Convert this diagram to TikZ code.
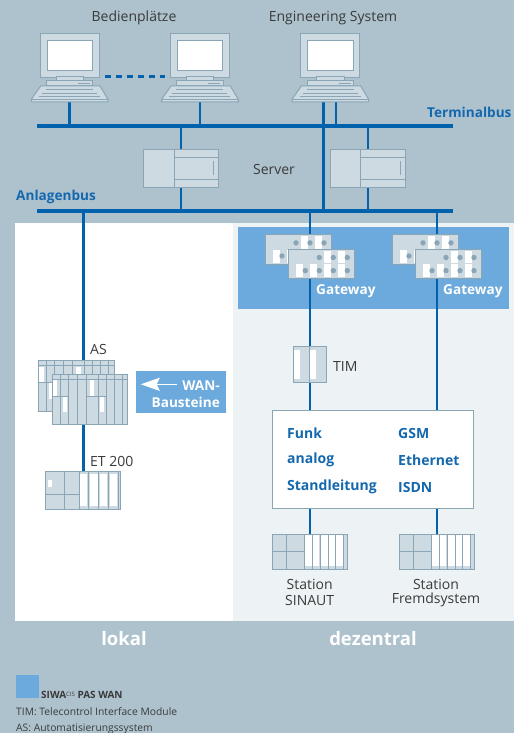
\documentclass[tikz,border=0pt]{standalone}
\usepackage{fontspec}
\setmainfont{Open Sans}
\usetikzlibrary{calc}
\usetikzlibrary{arrows.meta}

\definecolor{bgblue}{HTML}{AEC2CE}
\definecolor{palepanel}{HTML}{EDF2F5}
\definecolor{wanblue}{HTML}{6CA9DC}
\definecolor{busblue}{HTML}{0061AD}
\definecolor{labelblue}{HTML}{1468AE}
\definecolor{devline}{HTML}{8AA5B5}
\definecolor{devfill}{HTML}{CDDAE2}
\definecolor{textdark}{HTML}{3A3A3A}

\pgfdeclarelayer{panels}
\pgfdeclarelayer{cables}
\pgfsetlayers{panels,cables,main}

\tikzset{
	devbox/.style={draw=devline, fill=devfill, line width=1pt, inner sep=0pt, outer sep=0pt, anchor=north west},
	devpart/.style={draw=devline, line width=1pt},
	whitebar/.style={fill=white},
	busbar/.style={fill=busblue, inner sep=0pt, outer sep=0pt, minimum width=416pt, minimum height=4.4pt},
	cable/.style={draw=busblue, line width=2.6pt},
	devlabel/.style={text=textdark, font=\fontsize{14}{16}\selectfont, inner sep=0pt},
	buslabel/.style={text=labelblue, font=\fontsize{13.6}{16}\selectfont\bfseries, inner sep=0pt},
	linklabel/.style={text=labelblue, font=\fontsize{14}{16}\selectfont\bfseries, inner sep=0pt, anchor=west},
	wanlabel/.style={text=white, font=\fontsize{13.6}{16}\selectfont\bfseries, inner sep=0pt},
	zonelabel/.style={text=white, font=\fontsize{18.5}{22}\selectfont\bfseries, inner sep=0pt},
	notelabel/.style={text=textdark, font=\fontsize{10.3}{12}\selectfont, inner sep=0pt, anchor=west},
	pics/pc/.style={code={
		\node[devbox, minimum width=59pt, minimum height=44pt] (-box) at (0,0) {};
		\draw[devpart, fill=white] (7,7) rectangle (52.3,37);
		\draw[devpart, fill=devfill] (16,43) rectangle (43.3,46.7);
		\draw[devpart, fill=devfill] (6.3,46.7) rectangle (52.7,52);
		\draw[devpart] (38,49.3)--(50,49.3);
		\draw[devpart, fill=devfill] (0.7,52)--(60,52)--(68,65.3)--(68,68)--(-8.7,68)--(-8.7,65.3)--cycle;
		\draw[devpart] (-8.7,65.3)--(68,65.3);
		\foreach \ky/\kx in {55.5/6, 59/2, 62.5/-1}{
			\draw[draw=devline, line width=0.7pt] (\kx,\ky)--({59-\kx},\ky);
		}
		\coordinate (-foot) at (29.5,68);
	}},
	pics/server/.style={code={
		\node[devbox, minimum width=75pt, minimum height=37.5pt] (-box) at (0,0) {};
		\draw[devpart] (30.5,0)--(30.5,37.5);
		\draw[devpart] (30.5,7.5)--(75,7.5);
		\draw[devpart] (30.5,29.5)--(75,29.5);
		\draw[devpart] (70,11.5)--(70,25.5);
	}},
	pics/gateway/.style={code={
		\node[devbox, minimum width=66pt, minimum height=29.4pt] (-box) at (0,0) {};
		\foreach \wx in {36,50}{
			\fill[whitebar] (\wx,1.5) rectangle ++(7,12.6);
		}
		\foreach \wx in {7.5,21.5,36,50}{
			\fill[whitebar] (\wx,15) rectangle ++(7,13);
		}
		\foreach \dx in {31,45,59}{
			\fill[devline] (\dx,8.2) circle (2.7);
		}
		\foreach \dx in {17,31,45,59}{
			\fill[devline] (\dx,21.3) circle (2.7);
		}
	}},
	pics/tim/.style={code={
		\node[devbox, minimum width=33.4pt, minimum height=36pt] (-box) at (0,0) {};
		\fill[whitebar] (1,3.3) rectangle ++(6,29);
		\fill[whitebar] (17,3.3) rectangle ++(6,29);
		\draw[devpart] (16.4,0)--(16.4,36);
	}},
	pics/rack/.style={code={
		\node[devbox, minimum width=75.7pt, minimum height=50.6pt] (-box) at (0,0) {};
		\foreach \wx/\wy in {1/6, 10.6/22, 38/6, 47.5/22}{
			\fill[whitebar] (\wx,\wy) rectangle ++(4.2,16);
		}
		\foreach \vx in {8.3,16,25,34,46,54,62,70}{
			\draw[devpart] (\vx,0)--(\vx,50.6);
		}
		\draw[devpart] (0,5)--(75.7,5);
		\draw[devpart] (0,22)--(16,22);
		\draw[devpart] (34,22)--(54,22);
	}},
	pics/etrack/.style={code={
		\node[devbox, minimum width=74.6pt, minimum height=37.7pt] (-box) at (0,0) {};
		\foreach \wx/\ww in {34.3/7.4, 44/8, 54/7, 64.3/7}{
			\fill[whitebar] (\wx,3) rectangle ++(\ww,32);
		}
		\foreach \vx in {42.8,53,63,72.5}{
			\draw[devpart] (\vx,0)--(\vx,37.7);
		}
		\fill[whitebar] (2.3,8.7) rectangle ++(4,6.6);
		\draw[devpart] (18.7,0)--(18.7,37.7);
		\draw[devpart] (33.7,0)--(33.7,37.7);
		\draw[devpart] (0,22.7)--(33.7,22.7);
	}},
	pics/station/.style={code={
		\node[devbox, minimum width=75pt, minimum height=34.7pt] (-box) at (0,0) {};
		\foreach \wx/\ww in {32/7.5, 40/7, 48.5/7, 56.5/6.5, 64/6.5}{
			\fill[whitebar] (\wx,0.8) rectangle ++(\ww,31.2);
		}
		\foreach \vx in {39.8,47.8,56,63.5,71.5}{
			\draw[devpart] (\vx,0)--(\vx,34.7);
		}
		\draw[devpart] (14,0)--(14,34.7);
		\draw[devpart] (32,0)--(32,34.7);
		\draw[devpart] (0,17.5)--(32,17.5);
	}},
}

\begin{document}
\begin{tikzpicture}[x=1pt,y=-1pt]

\useasboundingbox (0,0) rectangle (514,733);

\begin{pgfonlayer}{panels}
\fill[bgblue] (0,0) rectangle (514,733);
\fill[white] (15,223) rectangle (233,621);
\fill[palepanel] (233,223) rectangle (514,621);
\fill[wanblue] (238,227) rectangle (509,309);
\end{pgfonlayer}

% busses
\node[busbar] (termbus) at (245,126) {};
\node[busbar] (plantbus) at (245,211) {};
\node[buslabel, anchor=west] (termlabel) at (427,112) {Terminalbus};
\node[buslabel, anchor=west] (plantlabel) at (16,197) {Anlagenbus};

% operator stations
\pic (pcA) at (40,34) {pc};
\pic (pcB) at (170.3,34) {pc};
\pic (pcC) at (300.7,34) {pc};
\coordinate (esL) at (323.3,102);
\coordinate (esR) at (336,102);
\coordinate (dashL) at (105,77);
\coordinate (dashR) at (165,77);
\node[devlabel] (oplabel) at (134,18) {Bedienplätze};
\node[devlabel] (eslabel) at (333,18) {Engineering System};
\draw[busblue, line width=3pt, dash pattern=on 6pt off 5pt] (dashL) -- (dashR);

% servers
\pic (srvA) at (143.5,149.5) {server};
\pic (srvB) at (330.3,149.5) {server};
\node[devlabel] (srvlabel) at (274,169) {Server};

% local side
\pic (asBack) at (38.3,360.7) {rack};
\pic (asFront) at (52,374.3) {rack};
\pic (et) at (45.7,471.3) {etrack};
\node[devlabel, anchor=west] (aslabel) at (90,349) {AS};
\node[devlabel, anchor=west] (etlabel) at (90,461) {ET 200};
\node[fill=wanblue, minimum width=90pt, minimum height=41.7pt, inner sep=0pt] (wanbox) at (181,391.8) {};
\node[wanlabel, anchor=east] (wanA) at (220,386) {WAN-};
\node[wanlabel, anchor=east] (wanB) at (220,402) {Bausteine};
\coordinate (wanTail) at (177,384.3);
\coordinate (wanTip) at (140.7,384.3);
\draw[white, line width=1.6pt, -{Stealth[length=19pt,width=13pt,inset=3pt]}] (wanTail) -- (wanTip);

% remote side
\pic (gwAb) at (265,234.7) {gateway};
\pic (gwAf) at (288.3,249.3) {gateway};
\pic (gwBb) at (392,234.7) {gateway};
\pic (gwBf) at (415,249.3) {gateway};
\node[wanlabel, anchor=west] (gwlabelA) at (316,291) {Gateway};
\node[wanlabel, anchor=west] (gwlabelB) at (443,291) {Gateway};
\pic (tim) at (293.3,346.7) {tim};
\node[devlabel, anchor=west] (timlabel) at (333,366) {TIM};

\node[draw=devline, fill=white, line width=1pt, inner sep=0pt, outer sep=0pt, minimum width=201.4pt, minimum height=98pt] (linkbox) at (373,459) {};
\node[linklabel] (funk) at (287,433) {Funk};
\node[linklabel] (analog) at (287,460) {analog};
\node[linklabel] (standl) at (287,487) {Standleitung};
\node[linklabel] (gsm) at (398,433) {GSM};
\node[linklabel] (ethernet) at (398,460) {Ethernet};
\node[linklabel] (isdn) at (398,487) {ISDN};

\pic (stA) at (272.3,534.3) {station};
\pic (stB) at (399.3,534.3) {station};
\node[devlabel] (stAa) at (309.7,584) {Station};
\node[devlabel] (stAb) at (309.7,600) {SINAUT};
\node[devlabel] (stBa) at (436,584) {Station};
\node[devlabel] (stBb) at (436,600) {Fremdsystem};

\node[zonelabel] (lokal) at (124,639) {lokal};
\node[zonelabel] (dezentral) at (373,639) {dezentral};

% legend
\node[fill=wanblue, minimum size=23pt, inner sep=0pt, anchor=north west] (legbox) at (16,675) {};
\node[notelabel, font=\fontsize{10}{12}\selectfont\bfseries, anchor=base west] (legname) at (41,698) {SIWA\raisebox{1.5pt}{\fontsize{6}{7}\selectfont\mdseries CIS} PAS WAN};
\node[notelabel] (legtim) at (16,712) {TIM: Telecontrol Interface Module};
\node[notelabel] (legas) at (16,729) {AS: Automatisierungssystem};

\begin{pgfonlayer}{cables}
\foreach \pc in {pcA,pcB}{
	\draw[cable] (\pc-foot) -- (\pc-foot |- termbus.center);
}
\draw[cable] (esL) -- (esL |- plantbus.center);
\draw[cable] (esR) -- (esR |- termbus.center);
\foreach \srv in {srvA,srvB}{
	\draw[cable] (\srv-box.north) -- (\srv-box.north |- termbus.center);
	\draw[cable] (\srv-box.south) -- (\srv-box.south |- plantbus.center);
}
\coordinate (etTap) at (83.4,471.3);
\draw[cable] (etTap) -- (etTap |- plantbus.center);
\draw[cable] (tim-box.north) -- (tim-box.north |- plantbus.center);
\draw[cable] (tim-box.south) -- (tim-box.south |- linkbox.north);
\draw[cable] (stB-box.north |- linkbox.north) -- (stB-box.north |- plantbus.center);
\draw[cable] (stA-box.north) -- (stA-box.north |- linkbox.south);
\draw[cable] (stB-box.north) -- (stB-box.north |- linkbox.south);
\end{pgfonlayer}

\end{tikzpicture}
\end{document}
